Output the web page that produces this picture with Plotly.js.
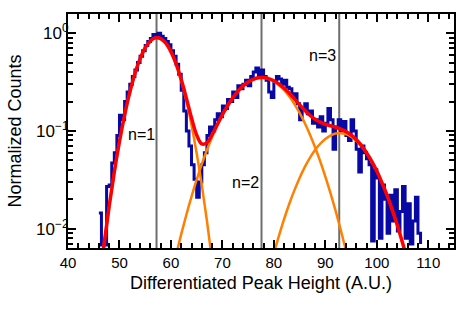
<!DOCTYPE html>
<html>
<head>
<meta charset="utf-8">
<script src="https://cdn.plot.ly/plotly-3.0.1.min.js"></script>
<style>
html,body{margin:0;padding:0;background:#fff;}
#chart{width:467px;height:317px;}
</style>
</head>
<body>
<div id="chart"></div>
<script>
// Measured histogram (0.5 A.U. bins)
const histX = [46.0,46.5,47.0,47.5,48.0,48.5,49.0,49.5,50.0,50.5,51.0,51.5,52.0,52.5,53.0,53.5,54.0,54.5,55.0,55.5,56.0,56.5,57.0,57.5,58.0,58.5,59.0,59.5,60.0,60.5,61.0,61.5,62.0,62.5,63.0,63.5,64.0,64.5,65.0,65.5,66.0,66.5,67.0,67.5,68.0,68.5,69.0,69.5,70.0,70.5,71.0,71.5,72.0,72.5,73.0,73.5,74.0,74.5,75.0,75.5,76.0,76.5,77.0,77.5,78.0,78.5,79.0,79.5,80.0,80.5,81.0,81.5,82.0,82.5,83.0,83.5,84.0,84.5,85.0,85.5,86.0,86.5,87.0,87.5,88.0,88.5,89.0,89.5,90.0,90.5,91.0,91.5,92.0,92.5,93.0,93.5,94.0,94.5,95.0,95.5,96.0,96.5,97.0,97.5,98.0,98.5,99.0,99.5,100.0,100.5,101.0,101.5,102.0,102.5,103.0,103.5,104.0,104.5,105.0,105.5,106.0,106.5,107.0,107.5,108.0,108.5];
const histY = [0.0145,0.0068,0.0068,0.027,0.028,0.047,0.06,0.09,0.145,0.13,0.20,0.25,0.30,0.36,0.42,0.50,0.58,0.66,0.75,0.82,0.88,0.97,0.95,1.0,0.93,0.88,0.82,0.76,0.66,0.58,0.48,0.38,0.26,0.16,0.10,0.07,0.045,0.032,0.021,0.03,0.045,0.06,0.09,0.11,0.10,0.13,0.15,0.14,0.18,0.17,0.21,0.20,0.25,0.22,0.29,0.27,0.30,0.33,0.29,0.36,0.40,0.44,0.37,0.42,0.36,0.33,0.25,0.22,0.32,0.36,0.34,0.30,0.33,0.28,0.27,0.22,0.24,0.19,0.13,0.17,0.19,0.15,0.16,0.12,0.13,0.11,0.14,0.10,0.12,0.17,0.13,0.065,0.11,0.13,0.10,0.125,0.09,0.08,0.13,0.10,0.065,0.038,0.07,0.06,0.052,0.045,0.0075,0.04,0.033,0.008,0.028,0.02,0.009,0.022,0.012,0.025,0.0095,0.015,0.027,0.008,0.018,0.007,0.012,0.021,0.009,0.007];

// Total fit (red)
const fitX = [46,47,48,49,50,51,52,53,54,55,56,57,58,59,60,61,62,63,64,65,66,67,68,69,70,71,72,73,74,75,76,77,78,79,80,81,82,83,84,85,86,87,88,89,90,91,92,93,94,95,96,97,98,99,100,101,102,103,104,105,106];
const fitY = [0.00256,0.0069,0.017,0.0381,0.0779,0.1455,0.2478,0.385,0.546,0.706,0.833,0.897,0.881,0.790,0.647,0.485,0.335,0.2165,0.1359,0.0909,0.0736,0.0759,0.0915,0.116,0.1467,0.181,0.2178,0.2541,0.2879,0.3164,0.3374,0.3494,0.3513,0.3433,0.3264,0.3024,0.2737,0.2432,0.2131,0.1859,0.163,0.1449,0.1318,0.123,0.1171,0.1129,0.1092,0.1046,0.0987,0.091,0.0816,0.0711,0.06,0.0491,0.0389,0.0296,0.0219,0.0156,0.0108,0.0072,0.0046];

// Component peaks (orange)
const peak1X = [46,47,48,49,50,51,52,53,54,55,56,57,58,59,60,61,62,63,64,65,66,67,68,69];
const peak1Y = [0.00256,0.0069,0.017,0.0381,0.0779,0.1455,0.2478,0.385,0.546,0.706,0.833,0.896,0.880,0.788,0.644,0.480,0.326,0.2026,0.1146,0.0592,0.0279,0.012,0.00468,0.0017];
const peak2X = [60,61,62,63,64,65,66,67,68,69,70,71,72,73,74,75,76,77,78,79,80,81,82,83,84,85,86,87,88,89,90,91,92,93,94,95];
const peak2Y = [0.0032,0.0054,0.0088,0.0139,0.0213,0.0317,0.0457,0.0639,0.0868,0.1143,0.1461,0.1811,0.2178,0.2541,0.2877,0.316,0.3367,0.3481,0.3492,0.3398,0.3208,0.2939,0.2611,0.2252,0.1883,0.1528,0.1204,0.0919,0.0681,0.049,0.0342,0.0231,0.0152,0.0097,0.006,0.0036];
const peak3X = [79,80,81,82,83,84,85,86,87,88,89,90,91,92,93,94,95,96,97,98,99,100,101,102,103,104,105,106];
const peak3Y = [0.0035,0.0056,0.0085,0.0126,0.018,0.0248,0.0331,0.0426,0.053,0.0637,0.074,0.0829,0.0898,0.094,0.0949,0.0927,0.0874,0.0795,0.0699,0.0593,0.0487,0.0387,0.0296,0.0219,0.0156,0.0108,0.0072,0.0046];

// Peak positions (gray markers) and labels
const peakPositions = [57.2, 77.6, 92.7];
const labelText = ['n=1', 'n=2', 'n=3'];
const labelX = [54.3, 74.55, 89.5];
const labelY = [0.093, 0.0298, 0.597];

// Axis ticks
const yTickVals = [0.01, 0.1, 1];
const yTickText = ['10<sup>\u22122</sup>', '10<sup>\u22121</sup>', '10<sup>0</sup>'];
const yMinorVals = [0.007,0.008,0.009,0.02,0.03,0.04,0.05,0.06,0.07,0.08,0.09,0.2,0.3,0.4,0.5,0.6,0.7,0.8,0.9];

const FONT = 'Liberation Sans, Arial, sans-serif';

const traces = [
  {x: histX, y: histY, type: 'scatter', mode: 'lines', line: {color: '#0808a4', width: 3, shape: 'hv'}, hoverinfo: 'skip'},
  {x: peak1X, y: peak1Y, type: 'scatter', mode: 'lines', line: {color: '#ff8000', width: 2.5, shape: 'spline'}},
  {x: peak2X, y: peak2Y, type: 'scatter', mode: 'lines', line: {color: '#ff8000', width: 2.5, shape: 'spline'}},
  {x: peak3X, y: peak3Y, type: 'scatter', mode: 'lines', line: {color: '#ff8000', width: 2.5, shape: 'spline'}},
  {x: fitX, y: fitY, type: 'scatter', mode: 'lines', line: {color: '#ff0000', width: 3.5, shape: 'spline'}}
];

const shapes = peakPositions.map(p => ({
  type: 'line', xref: 'x', yref: 'paper', x0: p, x1: p, y0: 0, y1: 1,
  line: {color: '#6e6e6e', width: 2}, layer: 'below'
}));

const annotations = labelText.map((t, i) => ({
  x: labelX[i], y: Math.log10(labelY[i]), xref: 'x', yref: 'y', text: t,
  showarrow: false, font: {family: FONT, size: 16, color: '#000'}
}));

const layout = {
  width: 467, height: 317,
  margin: {l: 68, r: 13, t: 14, b: 69},
  paper_bgcolor: '#fff', plot_bgcolor: '#fff',
  showlegend: false,
  font: {family: FONT, size: 14, color: '#000'},
  xaxis: {
    range: [40, 115], dtick: 10, tick0: 0,
    showgrid: false, zeroline: false,
    showline: true, linecolor: '#000', linewidth: 2, mirror: 'allticks',
    ticks: 'inside', ticklen: 8, tickwidth: 2, tickcolor: '#000',
    minor: {dtick: 2, ticks: 'inside', ticklen: 5, tickwidth: 2, tickcolor: '#000', showgrid: false},
    tickfont: {family: FONT, size: 15},
    title: {text: 'Differentiated Peak Height (A.U.)', font: {family: FONT, size: 18}, standoff: 6}
  },
  yaxis: {
    type: 'log', range: [-2.197, 0.196],
    tickmode: 'array', tickvals: yTickVals, ticktext: yTickText,
    showgrid: false, zeroline: false,
    showline: true, linecolor: '#000', linewidth: 2, mirror: 'allticks',
    ticks: 'inside', ticklen: 8, tickwidth: 2, tickcolor: '#000',
    minor: {tickmode: 'array', tickvals: yMinorVals, ticks: 'inside', ticklen: 5, tickwidth: 2, tickcolor: '#000', showgrid: false},
    tickfont: {family: FONT, size: 17},
    ticklabelstandoff: -6,
    title: {text: 'Normalized Counts', font: {family: FONT, size: 18}, standoff: 10}
  },
  shapes: shapes,
  annotations: annotations
};

Plotly.newPlot('chart', traces, layout, {staticPlot: true, displayModeBar: false});
</script>
</body>
</html>
